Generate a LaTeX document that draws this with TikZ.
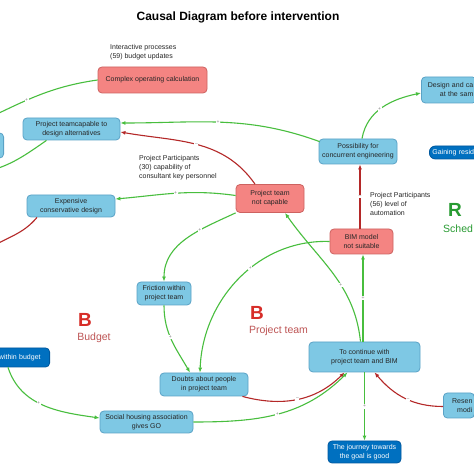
\documentclass[tikz,border=0pt]{standalone}
\usepackage{fontspec}
\setmainfont{Liberation Sans}
\usetikzlibrary{positioning, shapes, arrows.meta}

\definecolor{factorblue}{RGB}{126,200,228}
\definecolor{factorblueline}{RGB}{90,162,198}
\definecolor{factorpink}{RGB}{244,132,130}
\definecolor{factorpinkline}{RGB}{205,98,96}
\definecolor{factordark}{RGB}{0,112,192}
\definecolor{factordarkline}{RGB}{0,88,158}
\definecolor{linkgreen}{RGB}{72,190,62}
\definecolor{linkred}{RGB}{180,40,40}
\definecolor{loopred}{RGB}{215,45,40}
\definecolor{loopredname}{RGB}{190,85,85}
\definecolor{loopgreen}{RGB}{40,155,50}

\tikzset{
  factor/.style={draw, rounded corners=4pt, align=center, inner sep=2pt, line width=0.8pt,
    font=\fontsize{7}{9}\selectfont},
  bluefactor/.style={factor, fill=factorblue, draw=factorblueline, text=black!85},
  pinkfactor/.style={factor, fill=factorpink, draw=factorpinkline, text=black!85},
  darkfactor/.style={factor, fill=factordark, draw=factordarkline, text=white},
  note/.style={align=left, inner sep=1pt, text=black!85, font=\fontsize{7}{9}\selectfont},
  poslink/.style={draw=linkgreen, line width=1.1pt, -{Latex[length=5pt,width=4pt]}},
  neglink/.style={draw=linkred, line width=1.1pt, -{Latex[length=5pt,width=4pt]}},
  sign/.style={fill=white, inner sep=0.6pt, text=gray, font=\fontsize{5}{5}\selectfont},
  loopletter/.style={font=\bfseries\fontsize{19}{20}\selectfont},
  loopname/.style={font=\fontsize{10.5}{12}\selectfont}
}

\begin{document}
\begin{tikzpicture}[x=1pt, y=1pt]
    \clip (0,0) rectangle (474,474);
    \fill[white] (0,0) rectangle (474,474);

    % Title
    \node[font=\bfseries\fontsize{12}{14}\selectfont] (title) at (238,457) {Causal Diagram before intervention};

    % Factors in the upper half
    \node[pinkfactor, minimum width=109pt, minimum height=26pt] (cplx) at (152.5,394) {Complex operating calculation};
    \node[note, anchor=north west] (notecplx) at (109,431) {Interactive processes\\(59) budget updates};

    \node[bluefactor, minimum width=97pt, minimum height=22pt] (capable) at (71.5,345) {Project teamcapable to\\design alternatives};
    \node[bluefactor, anchor=east, minimum width=40pt, minimum height=25pt] (leftcut) at (4,328.5) {};

    \node[bluefactor, minimum width=88pt, minimum height=22pt] (expens) at (71,268) {Expensive\\conservative design};

    \node[pinkfactor, minimum width=68pt, minimum height=28pt] (notcap) at (270,275.5) {Project team\\not capable};
    \node[note, anchor=north west] (notecons) at (138,320) {Project Participants\\(30) capability of\\consultant key personnel};

    \node[bluefactor, minimum width=78pt, minimum height=25pt] (concur) at (358,322.5) {Possibility for\\concurrent engineering};

    \node[bluefactor, anchor=west, text width=49pt, align=right, inner xsep=3pt, minimum height=26pt]
    (design) at (421,384) {Design and ca\\at the sam};

    \node[darkfactor, anchor=west, text width=60pt, align=left, inner xsep=3pt, minimum height=13pt, rounded corners=6pt]
    (gain) at (429,321.5) {Gaining resid};

    \node[pinkfactor, minimum width=63pt, minimum height=25pt] (bim) at (361.5,232.5) {BIM model\\not suitable};
    \node[note, anchor=north west] (noteauto) at (369,283) {Project Participants\\(56) level of\\automation};

    % Loop names
    \node[loopletter, text=loopgreen] (rsched) at (455,264) {R};
    \node[loopname, text=loopgreen, anchor=west, inner sep=0pt] (rschedname) at (443,245) {Sched};

    \node[loopletter, text=loopred] (bbudget) at (85,154) {B};
    \node[loopname, text=loopredname] (bbudgetname) at (94,136.5) {Budget};

    \node[loopletter, text=loopred] (bteam) at (257,161) {B};
    \node[loopname, text=loopredname] (bteamname) at (278.5,143) {Project team};

    % Factors in the lower half
    \node[bluefactor, minimum width=54pt, minimum height=23pt] (friction) at (164,180.5) {Friction within\\project team};
    \node[bluefactor, minimum width=88pt, minimum height=23pt] (doubts) at (204,89.5) {Doubts about people\\in project team};
    \node[bluefactor, minimum width=111pt, minimum height=30pt] (cont) at (364.5,117) {To continue with\\project team and BIM};

    \node[darkfactor, anchor=east, text width=60pt, align=right, inner xsep=9pt, minimum height=19pt]
    (budget) at (50,116.5) {within budget};

    \node[bluefactor, minimum width=93pt, minimum height=22pt] (social) at (146.5,52) {Social housing association\\gives GO};
    \node[darkfactor, minimum width=73pt, minimum height=22pt] (journey) at (364.5,22) {The journey towards\\the goal is good};

    \node[bluefactor, anchor=west, text width=27pt, align=right, inner xsep=2pt, minimum height=25pt]
    (resen) at (443,68.5) {Resen\\modi};

    % Loose ends leaving the picture
    \coordinate (cplxout) at (-20,352);
    \coordinate (capout) at (-15,302);
    \coordinate (expout) at (-12,224);

    % Links
    \draw[poslink] (cplx.west) to[out=188,in=25] node[sign,pos=0.6]{+} (cplxout);
    \draw[poslink] ([shift={(1pt,-3pt)}]concur.north west) to[out=160,in=0] node[sign,pos=0.52]{+} ([yshift=6pt]capable.east);
    \draw[neglink] ([xshift=-15pt]notcap.north) to[out=125,in=-10] node[sign,pos=0.5]{–} ([yshift=-3pt]capable.east);
    \draw[poslink] ([xshift=-25pt]capable.south) to[out=215,in=15] (capout);
    \draw[poslink] ([yshift=3pt]notcap.west) to[out=172,in=5] node[sign,pos=0.5]{+} ([yshift=7pt]expens.east);
    \draw[neglink] ([xshift=-34pt]expens.south) to[out=230,in=35] (expout);
    \draw[poslink] (notcap.south west) to[out=205,in=90] node[sign,pos=0.35]{+} (friction.north);
    \draw[poslink] (bim.west) to[out=178,in=88] node[sign,pos=0.42]{+} ([xshift=-4pt]doubts.north);
    \draw[poslink] (friction.south) to[out=-90,in=120] node[sign,pos=0.45]{+} ([xshift=-14pt]doubts.north);
    \draw[poslink] ([xshift=-4pt]cont.north) to[out=96,in=-55] node[sign,pos=0.4]{+} ([xshift=15pt]notcap.south);
    \draw[poslink] ([xshift=-1.5pt]cont.north) -- node[sign]{+} ([xshift=1.5pt]bim.south);
    \draw[neglink] ([xshift=-1.5pt]bim.north) -- node[sign]{–} ([xshift=2pt]concur.south);
    \draw[poslink] ([xshift=4pt]concur.north) to[out=80,in=192] node[sign,pos=0.45]{+} ([yshift=-3pt]design.west);
    \draw[neglink] ([xshift=-6pt]doubts.south east) to[out=-15,in=225] node[sign,pos=0.5]{–} ([xshift=-20pt]cont.south);
    \draw[poslink] (social.east) to[out=0,in=225] node[sign,pos=0.5]{+} ([xshift=-17pt]cont.south);
    \draw[neglink] ([yshift=-1pt]resen.west) to[out=180,in=-50] node[sign,pos=0.45]{–} ([xshift=10pt]cont.south);
    \draw[poslink] (cont.south) -- node[sign]{+} (journey.north);
    \draw[poslink] ([xshift=-42pt]budget.south east) to[out=-72,in=172] node[sign,pos=0.45]{+} ([yshift=4pt]social.west);

\end{tikzpicture}
\end{document}
